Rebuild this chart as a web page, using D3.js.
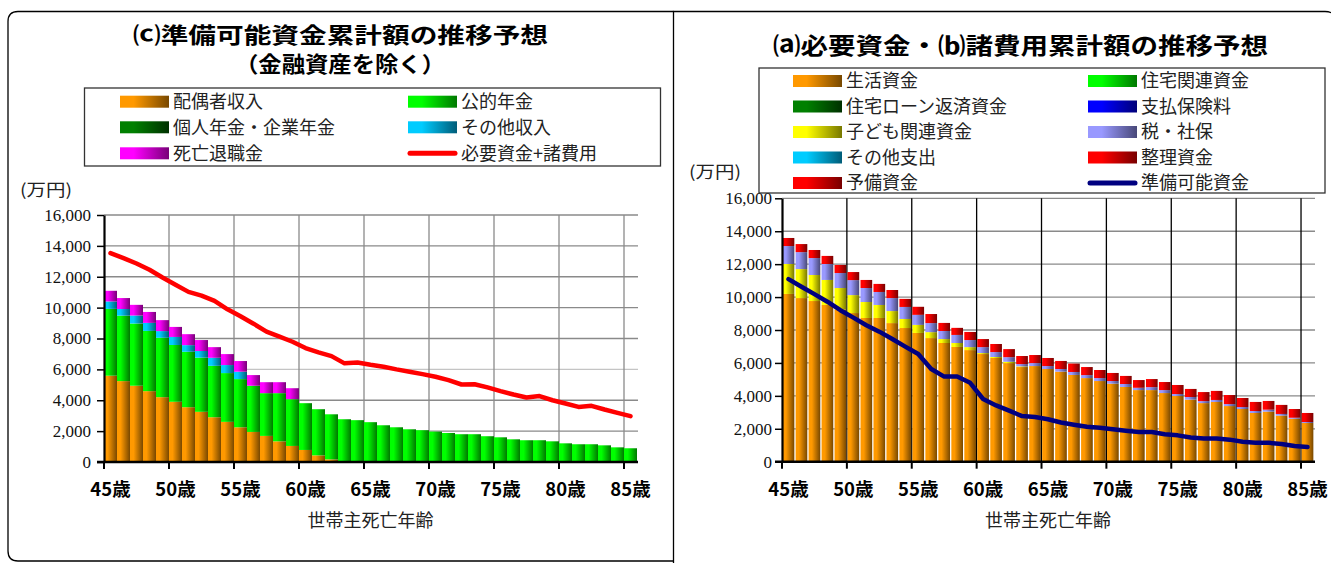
<!DOCTYPE html>
<html><head><meta charset="utf-8">
<script src="https://cdn.jsdelivr.net/npm/d3@7"></script>
<style>body{margin:0;background:#fff}</style>
</head><body>
<svg id="c" width="1331" height="563" xmlns="http://www.w3.org/2000/svg"></svg>
<script>
// ---------- categories / ticks ----------
const ages = [45,46,47,48,49,50,51,52,53,54,55,56,57,58,59,60,61,62,63,64,65,66,67,68,69,70,71,72,73,74,75,76,77,78,79,80,81,82,83,84,85];
const tickAges = [45,50,55,60,65,70,75,80,85];
const tickLabels = ["45歳","50歳","55歳","60歳","65歳","70歳","75歳","80歳","85歳"];
const yTicks = [0,2000,4000,6000,8000,10000,12000,14000,16000];

// ---------- (c) 準備可能資金 (left) ----------
const leftNames = ["配偶者収入","公的年金","個人年金・企業年金","その他収入","死亡退職金","必要資金+諸費用"];
const spouseIncome   = [5590,5240,4940,4590,4200,3900,3550,3250,2900,2600,2250,1950,1690,1340,1040,780,430,170,0,0,0,0,0,0,0,0,0,0,0,0,0,0,0,0,0,0,0,0,0,0,0];
const publicPension  = [4330,4240,4030,3900,3850,3680,3590,3510,3330,3160,3120,2990,2770,3120,3030,3030,2990,2920,2770,2710,2580,2380,2250,2120,2060,1970,1880,1800,1800,1670,1600,1470,1410,1410,1340,1210,1150,1150,1080,950,890];
const privatePension = [0,0,0,0,0,0,0,0,0,0,0,0,0,0,0,0,0,0,0,0,0,0,0,0,0,0,0,0,0,0,0,0,0,0,0,0,0,0,0,0,0];
const otherIncome    = [480,430,520,520,430,520,430,430,520,520,480,0,0,0,0,0,0,0,0,0,0,0,0,0,0,0,0,0,0,0,0,0,0,0,0,0,0,0,0,0,0];
const deathBenefit   = [690,710,690,710,710,650,710,710,690,710,690,690,710,710,710,0,0,0,0,0,0,0,0,0,0,0,0,0,0,0,0,0,0,0,0,0,0,0,0,0,0];
const requiredPlusCosts = [13530,13210,12860,12450,11950,11480,11020,10780,10440,9890,9440,8960,8440,8120,7790,7380,7100,6860,6390,6450,6300,6170,6000,5850,5690,5520,5300,5020,5040,4830,4590,4370,4180,4270,4000,3790,3570,3640,3400,3180,2970];

// ---------- (a)(b) 必要資金・諸費用 (right) ----------
const rightNames = ["生活資金","住宅関連資金","住宅ローン返済資金","支払保険料","子ども関連資金","税・社保","その他支出","整理資金","予備資金","準備可能資金"];
const livingFunds   = [10190,9940,9760,9520,9250,9030,8730,8730,8420,8120,7820,7510,7210,6970,6780,6540,6300,5990,5750,5810,5630,5470,5270,5080,4900,4740,4540,4350,4350,4170,3990,3770,3560,3630,3380,3200,2960,3040,2800,2610,2350];
const housingFunds  = [0,0,0,0,0,0,0,0,0,0,0,0,0,0,0,0,0,0,0,0,0,0,0,0,0,0,0,0,0,0,0,0,0,0,0,0,0,0,0,0,0];
const loanFunds     = [0,0,0,0,0,0,0,0,0,0,0,0,0,0,0,0,0,0,0,0,0,0,0,0,0,0,0,0,0,0,0,0,0,0,0,0,0,0,0,0,0];
const insurancePaid = [0,0,0,0,0,0,0,0,0,0,0,0,0,0,0,0,0,0,0,0,0,0,0,0,0,0,0,0,0,0,0,0,0,0,0,0,0,0,0,0,0];
const childFunds    = [1820,1760,1580,1520,1300,1090,970,790,730,550,490,360,240,240,180,60,60,80,40,0,0,0,0,0,0,0,0,0,0,0,0,0,0,0,0,0,0,0,0,0,0];
const taxSocial     = [1090,1030,1030,970,910,910,850,790,790,730,610,550,490,490,430,360,300,280,140,180,180,160,180,180,180,160,180,140,180,180,120,160,120,120,120,120,120,120,100,60,60];
const otherExpense  = [0,0,0,0,0,0,0,0,0,0,0,0,0,0,0,0,0,0,0,0,0,0,0,0,0,0,0,0,0,0,0,0,0,0,0,0,0,0,0,0,0];
const settlementFunds = [490,490,490,490,490,490,490,490,490,490,490,550,490,430,490,490,490,490,490,490,490,490,510,490,490,490,490,470,490,490,550,490,550,550,550,550,550,530,550,530,550];
const reserveFunds  = [0,0,0,0,0,0,0,0,0,0,0,0,0,0,0,0,0,0,0,0,0,0,0,0,0,0,0,0,0,0,0,0,0,0,0,0,0,0,0,0,0];
const availableFunds = [11090,10630,10180,9720,9200,8750,8290,7900,7450,6990,6540,5630,5170,5170,4790,3810,3420,3100,2770,2710,2580,2380,2250,2120,2060,1970,1880,1800,1800,1670,1600,1470,1410,1410,1340,1210,1150,1150,1080,950,890];

// ---------- drawing ----------
const svg = d3.select("#c");
const defs = svg.append("defs");
const gradColors = {
  gOrange:["#FF9900","#784800"], gGreen:["#00FF00","#007800"], gDkGreen:["#008000","#003000"],
  gCyan:["#00CCFF","#005C78"], gMagenta:["#FF00FF","#780078"], gRed:["#FF0000","#780000"],
  gYellow:["#FFFF00","#787800"], gBlue:["#0000FF","#000078"], gLav:["#9999FF","#484878"]
};
Object.entries(gradColors).forEach(([id,[c1,c2]])=>{
  const lg = defs.append("linearGradient").attr("id",id).attr("x1",0).attr("x2",1).attr("y1",0).attr("y2",0);
  lg.append("stop").attr("offset",0).attr("stop-color",c1);
  lg.append("stop").attr("offset",0.28).attr("stop-color",c1);
  lg.append("stop").attr("offset",1).attr("stop-color",c2);
});

const JP = "'Noto Sans CJK JP','Noto Sans',sans-serif";
const SERIF = "'Liberation Serif','DejaVu Serif',serif";

// panels
svg.append("path").attr("d","M673.5,11.5 H18 Q8,11.5 8,21.5 V551 Q8,561 18,561 H673.5")
  .attr("fill","none").attr("stroke","#000").attr("stroke-width",1.3);
svg.append("path").attr("d","M673.5,570 V11.5 H1325 Q1336,11.5 1336,22 V570")
  .attr("fill","none").attr("stroke","#000").attr("stroke-width",1.3);

function chart(o){
  const g = svg.append("g");
  const x = d3.scaleBand().domain(ages).range(o.xr).paddingInner(o.pi).paddingOuter(o.po);
  const y = d3.scaleLinear().domain([0,16000]).range(o.yr);
  const edge = a => x(a) + x.bandwidth()/2 - x.step()/2;

  g.selectAll("line.hg").data(yTicks.slice(1)).join("line").attr("class","hg")
    .attr("x1",o.xr[0]).attr("x2",o.xr[1]+1).attr("y1",d=>y(d)).attr("y2",d=>y(d))
    .attr("stroke",d=>o.hg(d)).attr("stroke-width",1.3);
  g.selectAll("line.vg").data(tickAges.slice(1)).join("line").attr("class","vg")
    .attr("x1",d=>edge(d)).attr("x2",d=>edge(d)).attr("y1",y(16000)).attr("y2",y(0))
    .attr("stroke",o.vg).attr("stroke-width",1.3);

  const rows = ages.map((a,i)=>{const r={age:a}; o.series.forEach(s=>r[s.key]=s.values[i]); return r;});
  const stacked = d3.stack().keys(o.series.map(s=>s.key))(rows);
  g.selectAll("g.s").data(stacked).join("g").attr("class","s")
    .attr("fill",(d,i)=>`url(#${o.series[i].grad})`)
    .selectAll("rect").data(d=>d.filter(v=>v[1]-v[0]>0)).join("rect")
    .attr("x",d=>x(d.data.age)).attr("width",x.bandwidth())
    .attr("y",d=>y(d[1])).attr("height",d=>y(d[0])-y(d[1]));

  const line = d3.line().x((d,i)=>x(ages[i])+x.bandwidth()/2).y(d=>y(d));
  g.append("path").datum(o.line).attr("d",line).attr("fill","none")
    .attr("stroke",o.lineColor).attr("stroke-width",4.5)
    .attr("stroke-linejoin","round").attr("stroke-linecap","round");

  const ya = g.append("g").attr("transform",`translate(${o.xr[0]},0)`)
    .call(d3.axisLeft(y).tickValues(yTicks).tickFormat(d3.format(",")).tickSize(7).tickSizeOuter(0).tickPadding(o.ypad));
  ya.select(".domain").attr("stroke","#000").attr("stroke-width",2.2);
  ya.selectAll(".tick line").attr("stroke","#000").attr("stroke-width",1.5);
  ya.selectAll("text").attr("font-family",SERIF).attr("font-size",17).attr("fill","#111");

  const xa = g.append("g").attr("transform",`translate(0,${y(0)})`)
    .call(d3.axisBottom(x).tickValues(tickAges).tickFormat((d,i)=>tickLabels[i]).tickSize(0).tickSizeOuter(0).tickPadding(21));
  xa.select(".domain").attr("stroke","#000").attr("stroke-width",2.6)
    .attr("d",`M${o.xr[0]-7},0H${o.xr[1]+1}`);
  xa.selectAll("text").attr("font-family",JP).attr("font-weight",700).attr("font-size",18.5).attr("fill","#000");
  g.selectAll("line.xt").data(tickAges).join("line").attr("class","xt")
    .attr("x1",d=>edge(d)).attr("x2",d=>edge(d)).attr("y1",y(0)).attr("y2",y(0)+7)
    .attr("stroke","#000").attr("stroke-width",2);

  g.append("text").attr("x",(o.xr[0]+o.xr[1])/2).attr("y",527).attr("text-anchor","middle")
    .attr("font-family",JP).attr("font-size",18).attr("fill","#222").text("世帯主死亡年齢");
  g.append("text").attr("x",o.unitX).attr("y",o.unitY).attr("font-family",JP).attr("font-size",16.5)
    .attr("fill","#222").attr("textLength",52).attr("lengthAdjust","spacingAndGlyphs").text("(万円)");
}

chart({
  xr:[104,637], yr:[462,215], pi:0, po:0, ypad:6,
  hg:d=> d===6000 ? "#c4c4c4" : "#8a8a8a", vg:"#8a8a8a",
  series:[
    {key:"a",values:spouseIncome,grad:"gOrange"},
    {key:"b",values:publicPension,grad:"gGreen"},
    {key:"c",values:privatePension,grad:"gDkGreen"},
    {key:"d",values:otherIncome,grad:"gCyan"},
    {key:"e",values:deathBenefit,grad:"gMagenta"}],
  line:requiredPlusCosts, lineColor:"#FF0000", unitX:20, unitY:196
});
chart({
  xr:[782,1314], yr:[461.7,198.3], pi:0.1, po:0.05, ypad:3,
  hg:()=>"#8a8a8a", vg:"#000",
  series:[
    {key:"a",values:livingFunds,grad:"gOrange"},
    {key:"b",values:housingFunds,grad:"gGreen"},
    {key:"c",values:loanFunds,grad:"gDkGreen"},
    {key:"d",values:insurancePaid,grad:"gBlue"},
    {key:"e",values:childFunds,grad:"gYellow"},
    {key:"f",values:taxSocial,grad:"gLav"},
    {key:"g",values:otherExpense,grad:"gCyan"},
    {key:"h",values:settlementFunds,grad:"gRed"},
    {key:"i",values:reserveFunds,grad:"gRed"}],
  line:availableFunds, lineColor:"#000080", unitX:689, unitY:178
});

// titles
function title(txt,x,y,len,size){
  svg.append("text").attr("x",x).attr("y",y).attr("text-anchor","middle")
    .attr("font-family",JP).attr("font-weight",700).attr("font-size",size).attr("fill","#000")
    .attr("textLength",len).attr("lengthAdjust","spacingAndGlyphs").text(txt);
}
title("⒞準備可能資金累計額の推移予想",340.5,43,415,21.5);
title("（金融資産を除く）",340,71.5,210,21.5);
title("⒜必要資金・⒝諸費用累計額の推移予想",1020.5,54,495,23);

// legends
function legend(box, items, cols, rows){
  svg.append("rect").attr("x",box[0]).attr("y",box[1]).attr("width",box[2]-box[0]).attr("height",box[3]-box[1])
    .attr("fill","#fff").attr("stroke","#333").attr("stroke-width",1.3);
  items.forEach((it,i)=>{
    const cx = cols[i%2], cy = rows[Math.floor(i/2)];
    if(it.line){
      svg.append("line").attr("x1",cx+2).attr("x2",cx+47).attr("y1",cy).attr("y2",cy)
        .attr("stroke",it.line).attr("stroke-width",5).attr("stroke-linecap","round");
    } else {
      svg.append("rect").attr("x",cx).attr("y",cy-6).attr("width",49).attr("height",12)
        .attr("fill",`url(#${it.grad})`);
    }
    svg.append("text").attr("x",cx+53).attr("y",cy).attr("dy","0.36em")
      .attr("font-family",JP).attr("font-size",18).attr("fill","#222").text(it.label);
  });
}
const leftGrads = ["gOrange","gGreen","gDkGreen","gCyan","gMagenta"];
legend([84.5,88,660.5,166],
  leftNames.map((n,i)=> i<5 ? {label:n,grad:leftGrads[i]} : {label:n,line:"#FF0000"}),
  [120,408],[101.7,127.3,153.3]);
const rightGrads = ["gOrange","gGreen","gDkGreen","gBlue","gYellow","gLav","gCyan","gRed","gRed"];
legend([759,68,1325,193],
  rightNames.map((n,i)=> i<9 ? {label:n,grad:rightGrads[i]} : {label:n,line:"#000080"}),
  [793,1088],[81,106.5,132,157.5,183]);
</script>
</body></html>
